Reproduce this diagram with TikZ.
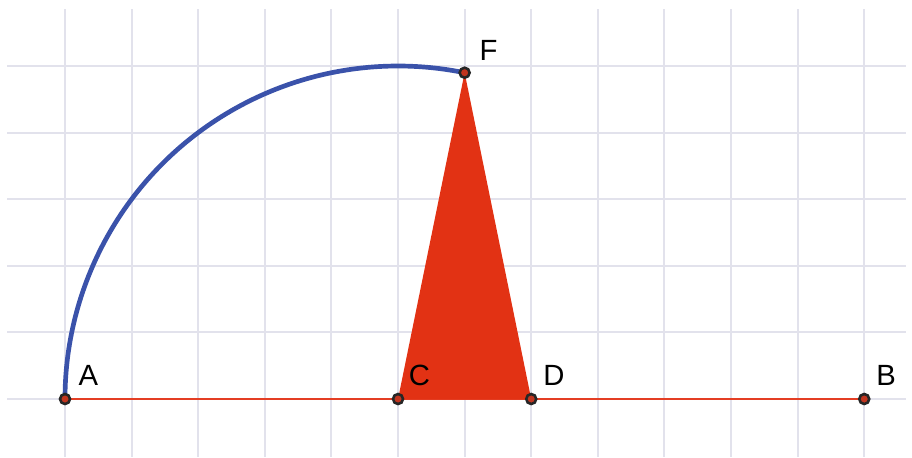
\documentclass[tikz,border=0pt]{standalone}
\usepackage{fontspec}
\setmainfont{Liberation Sans}
\usetikzlibrary{calc}
\definecolor{gridc}{RGB}{226,226,236}
\definecolor{segred}{RGB}{228,62,36}
\definecolor{trired}{RGB}{226,50,20}
\definecolor{arcblue}{RGB}{58,82,170}
\tikzset{
  gridline/.style={draw=gridc, line width=0.9pt},
  seg/.style={draw=segred, line width=0.7pt},
  arcline/.style={draw=arcblue, line width=2pt},
  pt/.style={circle, draw=black!85, fill=segred!85!black, line width=1.1pt, minimum size=0.15cm, inner sep=0pt},
  lbl/.style={font=\fontsize{12.5}{15}\selectfont, inner sep=0pt}
}
\begin{document}
\begin{tikzpicture}
\useasboundingbox (-0.976,-0.871) rectangle (12.717,5.991);
% grid
\foreach \x in {0,...,12} \draw[gridline] (\x,-0.871) -- (\x,5.856);
\foreach \y in {0,...,5} \draw[gridline] (-0.871,\y) -- (12.63,\y);
% points
\coordinate (A) at (0,0);
\coordinate (C) at (5,0);
\coordinate (D) at (7,0);
\coordinate (B) at (12,0);
\coordinate (F) at (6,4.899);
% segment
\draw[seg] (A) -- (B);
% triangle
\fill[trired] (C) -- (D) -- (F) -- cycle;
% arc centred at C
\draw[arcline] (A) arc[start angle=180, end angle=78.46, radius=5];
% dots
\foreach \p in {A,B,C,D,F} \node[pt] (n\p) at (\p) {};
% labels
\node[lbl] (lA) at ($(A)+(0.35,0.36)$) {A};
\node[lbl] (lB) at ($(B)+(0.33,0.36)$) {B};
\node[lbl] (lC) at ($(C)+(0.32,0.36)$) {C};
\node[lbl] (lD) at ($(D)+(0.34,0.36)$) {D};
\node[lbl] (lF) at ($(F)+(0.36,0.33)$) {F};
\end{tikzpicture}
\end{document}
